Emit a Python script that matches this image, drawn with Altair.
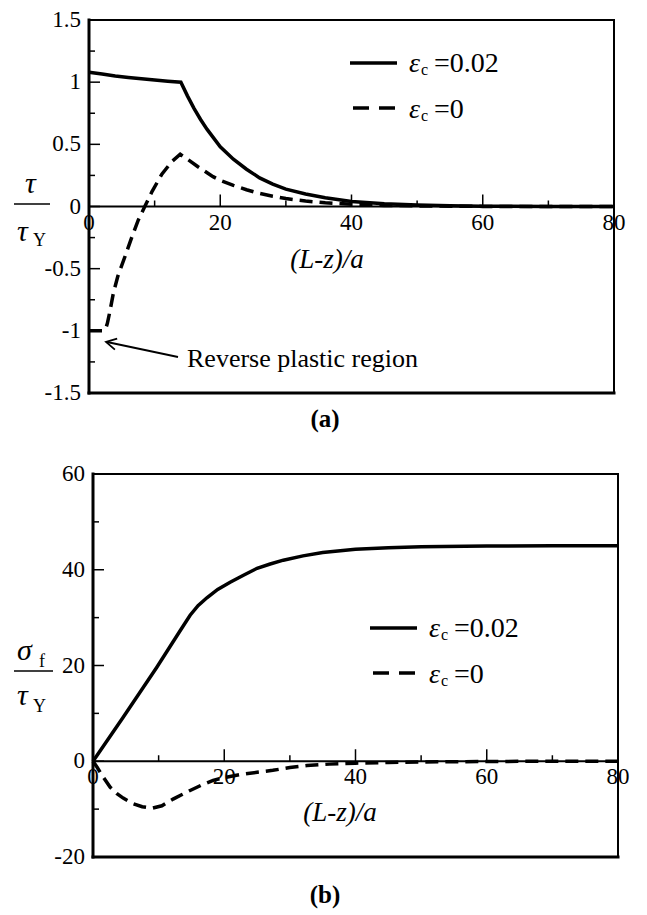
import altair as alt
import pandas as pd

# ---------------- data ----------------
# panel (a): tau / tau_Y versus (L-z)/a
a_x_solid = [0, 2, 4, 6, 8, 10, 12, 14, 15, 16, 17, 18, 20, 22, 24, 26, 28, 30, 33, 36, 40, 45, 50, 55, 60, 70, 80]
a_y_solid = [1.08, 1.065, 1.05, 1.038, 1.027, 1.017, 1.008, 1.0, 0.89, 0.79, 0.70, 0.62, 0.48, 0.38, 0.30, 0.23,
             0.18, 0.14, 0.10, 0.07, 0.04, 0.022, 0.012, 0.006, 0.003, 0.001, 0.0]
a_x_dash = [0, 1, 2, 2.5, 2.8, 3.2, 3.7, 4.4, 5.5, 6.5, 7.5, 8.5, 9.6, 11.1, 12.6, 13.9, 15, 16.6, 18.9, 20,
            22, 24, 26, 28, 30, 33, 36, 40, 45, 50, 60, 70, 80]
a_y_dash = [-1, -1, -1, -0.99, -0.94, -0.84, -0.7, -0.56, -0.4, -0.25, -0.11, 0.0, 0.12, 0.26, 0.36, 0.42, 0.38,
            0.32, 0.24, 0.21, 0.17, 0.135, 0.105, 0.082, 0.064, 0.044, 0.03, 0.018, 0.009, 0.005, 0.001, 0, 0]

# panel (b): sigma_f / tau_Y versus (L-z)/a
b_x_solid = [0, 4.6, 9.7, 13.3, 14.8, 16, 17.4, 19, 20.9, 23, 25, 27, 29, 32, 35, 40, 45, 50, 60, 70, 80]
b_y_solid = [0, 9.2, 19.6, 27.3, 30.5, 32.5, 34.2, 35.9, 37.4, 38.9, 40.3, 41.2, 42.0, 42.9, 43.6, 44.3, 44.6,
             44.8, 44.95, 45.0, 45.0]
b_x_dash = [0, 0.6, 1.5, 2.6, 3.6, 4.6, 6, 7.5, 9, 10.5, 12.2, 13.5, 14.8, 16.5, 18.3, 20, 22.4, 25, 27.4, 30,
            32.6, 36, 40, 45, 50, 60, 70, 80]
b_y_dash = [0, -1.2, -3.2, -5.4, -6.7, -7.7, -8.8, -9.5, -9.8, -9.3, -7.9, -7.0, -6.1, -5.0, -4.0, -3.4, -2.8,
            -2.3, -1.9, -1.3, -0.9, -0.6, -0.4, -0.25, -0.15, -0.05, 0, 0]

# ticks and tick labels
x_ticks_major = [20, 40, 60]
x_ticks_minor = [10, 30, 50, 70]
x_label_vals = [0, 20, 40, 60, 80]
x_labels = ["0", "20", "40", "60", "80"]

a_y_ticks_major = [-1, -0.5, 0, 0.5, 1]
a_y_ticks_minor = [-1.25, -0.75, -0.25, 0.25, 0.75, 1.25]
a_y_label_vals = [-1.5, -1, -0.5, 0, 0.5, 1, 1.5]
a_y_labels = ["-1.5", "-1", "-0.5", "0", "0.5", "1", "1.5"]

b_y_ticks_major = [0, 20, 40]
b_y_ticks_minor = [-10, 10, 30, 50]
b_y_label_vals = [-20, 0, 20, 40, 60]
b_y_labels = ["-20", "0", "20", "40", "60"]

legend_values = ["=0.02", "=0"]

FONT = "Liberation Serif, Times New Roman, serif"
one = pd.DataFrame({"k": [0]})


def txt(s, x, y, size, italic=False, bold=False, align="left"):
    return alt.Chart(one).mark_text(
        text=s, font=FONT, fontSize=size, fontStyle="italic" if italic else "normal",
        fontWeight="bold" if bold else "normal", align=align, baseline="alphabetic", color="black"
    ).encode(x=alt.value(x), y=alt.value(y))


def hrule(x1, x2, y, w, dash=None):
    kw = dict(color="black", strokeWidth=w)
    if dash:
        kw["strokeDash"] = dash
    return alt.Chart(one).mark_rule(**kw).encode(x=alt.value(x1), x2=alt.value(x2), y=alt.value(y))


def panel(xs_s, ys_s, xs_d, ys_d, x_range, y_dom, y_range,
          ymaj, ymin_, ylab_vals, ylabs):
    px_x = (x_range[1] - x_range[0]) / 80.0
    px_y = (y_range[0] - y_range[1]) / (y_dom[1] - y_dom[0])
    xs = alt.Scale(domain=[0, 80], range=x_range, nice=False, zero=False)
    ys = alt.Scale(domain=y_dom, range=y_range, nice=False, zero=False)

    def X(f):
        return alt.X(f, type="quantitative", scale=xs, axis=None)

    def Y(f):
        return alt.Y(f, type="quantitative", scale=ys, axis=None)

    lo, hi = y_dom
    layers = []
    # tick labels
    layers.append(alt.Chart(pd.DataFrame({"x": x_label_vals, "y": [0] * len(x_label_vals), "t": x_labels}))
                  .mark_text(font=FONT, fontSize=23, align="center", baseline="top", dy=5, color="black")
                  .encode(x=X("x"), y=Y("y"), text="t:N"))
    layers.append(alt.Chart(pd.DataFrame({"x": [0] * len(ylab_vals), "y": ylab_vals, "t": ylabs}))
                  .mark_text(font=FONT, fontSize=23, align="right", baseline="middle", dx=-8, color="black")
                  .encode(x=X("x"), y=Y("y"), text="t:N"))
    # frame
    thick = pd.DataFrame({"x": [0, 0], "x2": [0, 80], "y": [lo, lo], "y2": [hi, lo]})
    thin = pd.DataFrame({"x": [0, 80], "x2": [80, 80], "y": [hi, lo], "y2": [hi, hi]})
    layers.append(alt.Chart(thick).mark_rule(color="black", strokeWidth=3, strokeCap="square")
                  .encode(x=X("x"), x2="x2", y=Y("y"), y2="y2"))
    layers.append(alt.Chart(thin).mark_rule(color="black", strokeWidth=2, strokeCap="square")
                  .encode(x=X("x"), x2="x2", y=Y("y"), y2="y2"))
    # zero line
    layers.append(alt.Chart(pd.DataFrame({"x": [0], "x2": [80], "y": [0]}))
                  .mark_rule(color="black", strokeWidth=2)
                  .encode(x=X("x"), x2="x2", y=Y("y")))
    # x ticks (pointing up from zero line)
    xt = pd.DataFrame({"x": x_ticks_major + x_ticks_minor,
                       "y": [0] * 7,
                       "y2": [12 / px_y] * 3 + [6 / px_y] * 4})
    layers.append(alt.Chart(xt).mark_rule(color="black", strokeWidth=1.5)
                  .encode(x=X("x"), y=Y("y"), y2="y2"))
    # y ticks (pointing in from the left frame)
    yt = pd.DataFrame({"x": [0] * (len(ymaj) + len(ymin_)),
                       "x2": [11 / px_x] * len(ymaj) + [6 / px_x] * len(ymin_),
                       "y": ymaj + ymin_})
    layers.append(alt.Chart(yt).mark_rule(color="black", strokeWidth=1.5)
                  .encode(x=X("x"), x2="x2", y=Y("y")))
    # curves
    layers.append(alt.Chart(pd.DataFrame({"x": xs_d, "y": ys_d}))
                  .mark_line(color="black", strokeWidth=3.5, strokeDash=[13, 7])
                  .encode(x=X("x"), y=Y("y")))
    layers.append(alt.Chart(pd.DataFrame({"x": xs_s, "y": ys_s}))
                  .mark_line(color="black", strokeWidth=3.5)
                  .encode(x=X("x"), y=Y("y")))
    return layers


def legend(x0, y0, y1, tx):
    return [
        hrule(x0, x0 + 47, y0, 3.5),
        hrule(x0 + 3, x0 + 47, y1, 3.5, dash=[16, 10]),
        txt("\u03b5", tx, y0 + 9, 28, italic=True),
        txt("c", tx + 12, y0 + 12, 16),
        txt(legend_values[0], tx + 25, y0 + 9, 28),
        txt("\u03b5", tx, y1 + 10, 28, italic=True),
        txt("c", tx + 12, y1 + 13, 16),
        txt(legend_values[1], tx + 25, y1 + 10, 28),
    ]


layers = []
layers += panel(a_x_solid, a_y_solid, a_x_dash, a_y_dash, [81, 606], [-1.5, 1.5], [385, 12],
                a_y_ticks_major, a_y_ticks_minor, a_y_label_vals, a_y_labels)
layers += panel(b_x_solid, b_y_solid, b_x_dash, b_y_dash, [85, 610], [-20, 60], [849, 466],
                b_y_ticks_major, b_y_ticks_minor, b_y_label_vals, b_y_labels)

# legends
layers += legend(342, 55, 100, 401)
layers += legend(362, 620, 665, 421)

# axis titles
layers += [
    txt("(L-z)/a", 319, 260, 27, italic=True, align="center"),
    txt("(L-z)/a", 332, 813, 27, italic=True, align="center"),
    # tau / tau_Y
    txt("\u03c4", 17, 185, 30, italic=True),
    hrule(6, 42, 196, 1.5),
    txt("\u03c4", 9, 233, 30, italic=True),
    txt("Y", 25, 238, 18),
    # sigma_f / tau_Y
    txt("\u03c3", 9, 652, 30, italic=True),
    txt("f", 31, 659, 18),
    hrule(6, 45, 663, 1.5),
    txt("\u03c4", 9, 697, 30, italic=True),
    txt("Y", 25, 704, 18),
    # panel labels
    txt("(a)", 317, 419, 25, bold=True, align="center"),
    txt("(b)", 317, 895, 25, bold=True, align="center"),
]

# annotation arrow
layers += [
    alt.Chart(one).mark_rule(color="black", strokeWidth=1.8).encode(
        x=alt.value(170), x2=alt.value(99), y=alt.value(349), y2=alt.value(334)),
    alt.Chart(one).mark_point(shape="M -1 -0.55 L 0 0 L -1 0.55", filled=False, color="black",
                              strokeWidth=1.8, size=420, angle=191.6, opacity=1).encode(
        x=alt.value(98), y=alt.value(334)),
    txt("Reverse plastic region", 179, 359, 26),
]

chart = alt.layer(*layers).resolve_scale(x="independent", y="independent").properties(
    width=631, height=903, autosize=alt.AutoSizeParams(type="none"), padding=0
).configure_view(stroke=None)

chart.save("out.html", embed_options={"renderer": "svg", "actions": False})
